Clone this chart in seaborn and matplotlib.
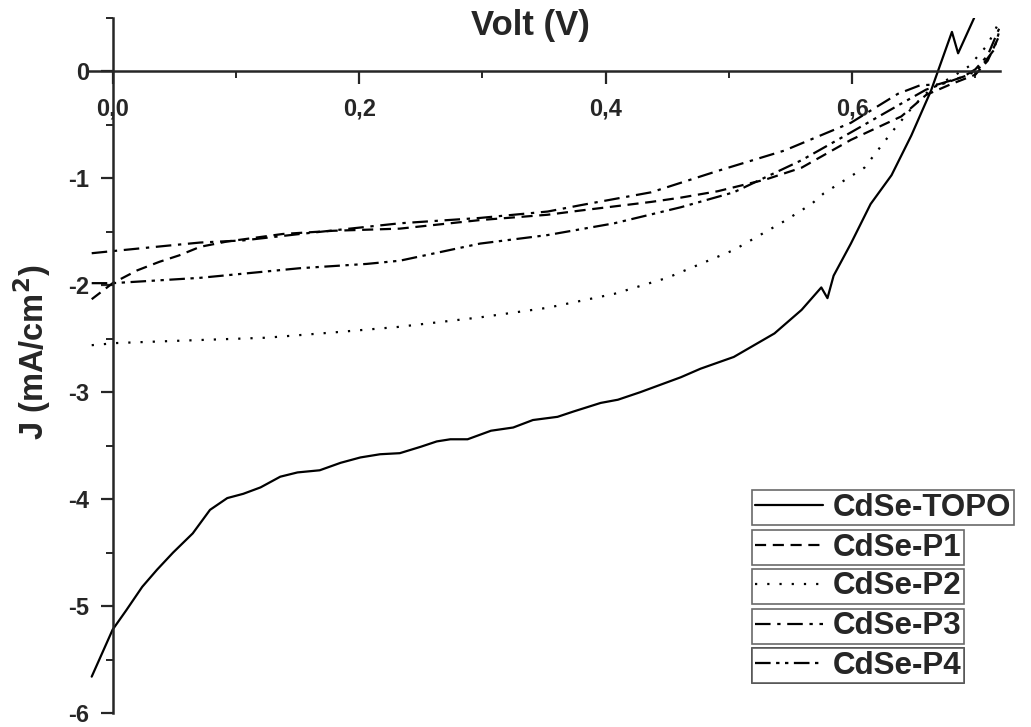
import numpy as np
import pandas as pd
import matplotlib
matplotlib.use("Agg")
import matplotlib.pyplot as plt
import seaborn as sns
from matplotlib.ticker import MultipleLocator, FuncFormatter

# 数据
volt_topo = [-0.017, 0.0, 0.011, 0.024, 0.036, 0.049, 0.065, 0.079, 0.093, 0.106, 0.120,
             0.136, 0.150, 0.168, 0.185, 0.201, 0.217, 0.233, 0.250, 0.263, 0.274, 0.288,
             0.307, 0.325, 0.341, 0.361, 0.374, 0.396, 0.410, 0.428, 0.461, 0.477, 0.504,
             0.537, 0.559, 0.575, 0.580, 0.585, 0.599, 0.615, 0.632, 0.648, 0.664, 0.681,
             0.686, 0.699]
j_topo = [-5.66, -5.22, -5.04, -4.82, -4.66, -4.50, -4.32, -4.10, -3.99, -3.95, -3.89,
          -3.79, -3.75, -3.73, -3.66, -3.61, -3.58, -3.57, -3.51, -3.46, -3.44, -3.44,
          -3.36, -3.33, -3.26, -3.23, -3.18, -3.10, -3.07, -3.00, -2.86, -2.78, -2.67,
          -2.45, -2.23, -2.02, -2.12, -1.91, -1.61, -1.24, -0.97, -0.60, -0.18, 0.37,
          0.17, 0.50]

volt_p1 = [-0.017, 0.0, 0.020, 0.038, 0.054, 0.071, 0.093, 0.106, 0.138, 0.179, 0.233,
           0.298, 0.353, 0.380, 0.437, 0.461, 0.491, 0.530, 0.559, 0.599, 0.640, 0.660,
           0.680, 0.700, 0.710, 0.720]
j_p1 = [-2.13, -1.98, -1.86, -1.78, -1.72, -1.64, -1.59, -1.57, -1.52, -1.49, -1.47,
        -1.39, -1.34, -1.30, -1.22, -1.18, -1.12, -1.01, -0.90, -0.64, -0.42, -0.22,
        -0.12, -0.03, 0.10, 0.35]

volt_p2 = [-0.017, 0.003, 0.050, 0.125, 0.180, 0.231, 0.298, 0.353, 0.407, 0.450, 0.504,
           0.545, 0.567, 0.577, 0.610, 0.632, 0.650, 0.665, 0.680, 0.695, 0.710, 0.720]
j_p2 = [-2.56, -2.54, -2.52, -2.49, -2.44, -2.39, -2.30, -2.21, -2.08, -1.93, -1.67,
        -1.40, -1.24, -1.14, -0.90, -0.57, -0.32, -0.15, -0.06, 0.05, 0.25, 0.48]

volt_p3 = [-0.017, 0.0, 0.044, 0.071, 0.106, 0.152, 0.233, 0.298, 0.353, 0.380, 0.437,
           0.491, 0.545, 0.599, 0.637, 0.655, 0.670, 0.690, 0.700, 0.710, 0.720]
j_p3 = [-1.70, -1.68, -1.63, -1.60, -1.58, -1.52, -1.42, -1.37, -1.31, -1.25, -1.13,
        -0.93, -0.74, -0.48, -0.21, -0.13, -0.12, -0.05, 0.02, 0.15, 0.42]

volt_p4 = [-0.017, 0.0, 0.071, 0.152, 0.206, 0.233, 0.298, 0.353, 0.407, 0.461, 0.504,
           0.559, 0.599, 0.640, 0.660, 0.680, 0.695, 0.705, 0.715, 0.720]
j_p4 = [-1.98, -1.98, -1.93, -1.84, -1.80, -1.77, -1.61, -1.53, -1.42, -1.27, -1.13,
        -0.83, -0.57, -0.30, -0.17, -0.09, -0.03, 0.05, 0.20, 0.40]

labels = ['CdSe-TOPO', 'CdSe-P1', 'CdSe-P2', 'CdSe-P3', 'CdSe-P4']
series = [(volt_topo, j_topo), (volt_p1, j_p1), (volt_p2, j_p2), (volt_p3, j_p3), (volt_p4, j_p4)]
styles = ['-', (0, (5, 3)), (0, (1, 4.5)), (0, (7, 3, 1.5, 3)), (0, (7, 2.5, 1.5, 2.5, 1.5, 2.5))]

sns.set_style("ticks")
plt.rcParams['font.family'] = ['Liberation Sans', 'DejaVu Sans']
plt.rcParams['font.weight'] = 'bold'
plt.rcParams['axes.unicode_minus'] = False

fig = plt.figure(figsize=(10.31, 7.27), dpi=100)
ax = fig.add_axes([88 / 1031, 1 - 713 / 727, (1000 - 88) / 1031, (713 - 18) / 727])

for (vx, vy), lab, ls in zip(series, labels, styles):
    sns.lineplot(x=vx, y=vy, ax=ax, color='black', lw=1.6, linestyle=ls,
                 sort=False, estimator=None, legend=False, label=lab)

ax.set_xlim(-0.02, 0.72)
ax.set_ylim(-6, 0.5)
ax.set_xlabel('')
ax.set_ylabel('')

# 坐标轴交于原点
ax.spines['left'].set_position(('data', 0))
ax.spines['bottom'].set_position(('data', 0))
ax.spines['top'].set_visible(False)
ax.spines['right'].set_visible(False)
for s in ['left', 'bottom']:
    ax.spines[s].set_linewidth(1.8)

ax.xaxis.set_major_locator(MultipleLocator(0.2))
ax.xaxis.set_minor_locator(MultipleLocator(0.1))
ax.yaxis.set_major_locator(MultipleLocator(1))
ax.yaxis.set_minor_locator(MultipleLocator(0.5))
ax.xaxis.set_major_formatter(FuncFormatter(lambda v, p: f"{v:.1f}".replace('.', ',')))
ax.yaxis.set_major_formatter(FuncFormatter(lambda v, p: f"{v:.0f}"))
ax.tick_params(axis='both', which='major', direction='out', length=9, width=1.6,
               labelsize=17, pad=8)
ax.tick_params(axis='x', which='major', pad=10)
ax.tick_params(axis='both', which='minor', direction='out', length=5, width=1.4)
for t in ax.get_xticklabels() + ax.get_yticklabels():
    t.set_fontweight('bold')

fig.text(530 / 1031, 1 - 25 / 727, 'Volt (V)', ha='center', va='center',
         fontsize=25, fontweight='bold')
fig.text(32 / 1031, 1 - 352 / 727, 'J (mA/cm$^\\mathbf{2}$)', ha='center', va='center',
         rotation=90, fontsize=23.5, fontweight='bold')

# 每条曲线一个独立的图例框
handles = ax.get_lines()
box_tops = [490, 530, 569, 609, 648]
for h, lab, top in zip(handles, labels, box_tops):
    leg = ax.legend([h], [lab], loc='upper left',
                    bbox_to_anchor=(752 / 1031, 1 - top / 727), bbox_transform=fig.transFigure,
                    frameon=True, fancybox=False, borderpad=0.08, borderaxespad=0,
                    handlelength=2.2, handletextpad=0.3,
                    prop={'size': 22.5, 'weight': 'bold'})
    leg.get_frame().set_edgecolor('#444444')
    leg.get_frame().set_linewidth(1.2)
    ax.add_artist(leg)

plt.savefig('out.png', dpi=100)
